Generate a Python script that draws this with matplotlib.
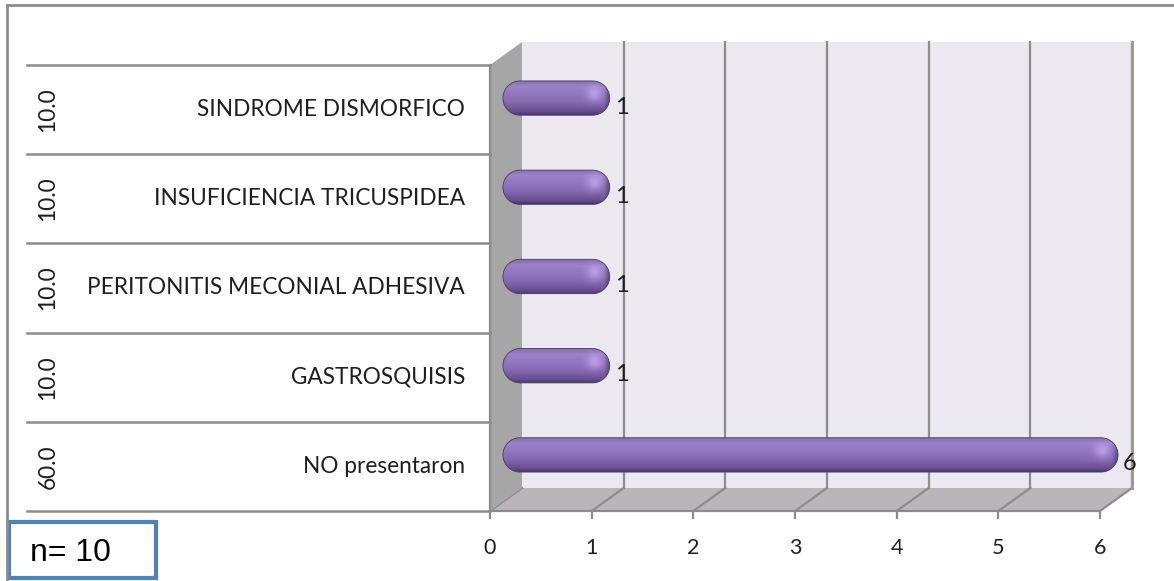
import numpy as np
import matplotlib
matplotlib.use("Agg")
import matplotlib.pyplot as plt
from matplotlib.patches import Polygon, Rectangle
from matplotlib.lines import Line2D
from matplotlib.transforms import offset_copy, blended_transform_factory

# ---- data ----
categories = ["NO presentaron", "GASTROSQUISIS", "PERITONITIS MECONIAL ADHESIVA",
              "INSUFICIENCIA TRICUSPIDEA", "SINDROME DISMORFICO"]
counts = [6, 1, 1, 1, 1]
percents = [60.0, 10.0, 10.0, 10.0, 10.0]
x_ticks = [0, 1, 2, 3, 4, 5, 6]
n_total = 10

W, H, DPI = 1174, 581, 100
fig = plt.figure(figsize=(W / DPI, H / DPI), dpi=DPI)
fig.patch.set_facecolor("white")

LABEL_FONT = ["Lato", "DejaVu Sans"]
GRID = "#8c8c8c"
TXT = "#1e1e1e"

# front plane of the 3D box, in pixels
fx0, fx1 = 490, 1100
fy_top, fy_bot = 65, 511
ax = fig.add_axes([fx0 / W, (H - fy_bot) / H, (fx1 - fx0) / W, (fy_bot - fy_top) / H])
ax.set_xlim(0, 6)
ax.set_ylim(-0.5, len(categories) - 0.5)
ax.axis("off")

ylo, yhi = -0.5, len(categories) - 0.5
xmax = x_ticks[-1]

# depth offsets (dots): back wall and the mid plane where bars sit
bx, by = 32, 23
back = offset_copy(ax.transData, fig=fig, x=bx, y=by, units="dots")
mid = offset_copy(ax.transData, fig=fig, x=bx / 2, y=by / 2, units="dots")

def to_data_offset(dx, dy):
    p0 = ax.transData.inverted().transform((0, 0))
    p1 = ax.transData.inverted().transform((dx, dy))
    return p1[0] - p0[0], p1[1] - p0[1]

fig.canvas.draw()
ddx, ddy = to_data_offset(bx, by)

# back wall with vertical gridlines
ax.add_patch(Polygon([(0, ylo), (xmax, ylo), (xmax, yhi), (0, yhi)], closed=True,
                     facecolor="#ebe8f0", edgecolor="none", transform=back, zorder=1,
                     clip_on=False))
for v in x_ticks[1:]:
    ax.plot([v, v], [ylo, yhi], color=GRID, lw=1.6, transform=back, zorder=2, clip_on=False)

# floor with depth gridlines
ax.add_patch(Polygon([(0, ylo), (xmax, ylo), (xmax + ddx, ylo + ddy), (ddx, ylo + ddy)],
                     closed=True, facecolor="#b9b5ba", edgecolor="none", zorder=1,
                     clip_on=False))
for v in x_ticks:
    ax.plot([v, v + ddx], [ylo, ylo + ddy], color=GRID, lw=1.6, zorder=2, clip_on=False)

# side wall
ax.add_patch(Polygon([(0, ylo), (ddx, ylo + ddy), (ddx, yhi + ddy), (0, yhi)],
                     closed=True, facecolor="#a6a6a6", edgecolor="none", zorder=2,
                     clip_on=False))
ax.plot([0, 0], [ylo, yhi], color=GRID, lw=1.6, zorder=3, clip_on=False)
# right edge of the back wall
ax.plot([xmax + ddx, xmax + ddx], [ylo + ddy, yhi + ddy], color="#9a9a9a", lw=2.2,
        zorder=2, clip_on=False)

# front axis line, ticks and tick labels
tick_len = 7 / 89.2
ax.plot([0, xmax], [ylo, ylo], color=GRID, lw=1.6, zorder=3, clip_on=False)
for v in x_ticks:
    ax.plot([v, v], [ylo, ylo - tick_len], color=GRID, lw=1.6, zorder=3, clip_on=False)
    ax.text(v, ylo - 0.42, str(v), ha="center", va="center", fontsize=15.5,
            family=LABEL_FONT, color=TXT)

# table on the left: row lines, category labels and percentages
tblend = blended_transform_factory(fig.transFigure, ax.transData)
for b in np.arange(ylo, yhi + 0.01, 1.0):
    fig.add_artist(Line2D([27 / W, fx0 / W], [b, b], transform=tblend, color=GRID, lw=1.8))
for i, (cat, pct) in enumerate(zip(categories, percents)):
    fig.text(465 / W, i, cat, transform=tblend, ha="right", va="center",
             fontsize=16.3, family=LABEL_FONT, color=TXT)
    fig.text(48 / W, i, f"{pct:.1f}", transform=tblend, ha="center", va="center",
             rotation=90, fontsize=16.3, family=LABEL_FONT, color=TXT)

# cylinder-style bars with rounded ends
bar_h = 0.385
ry = bar_h / 2
rx = ry * 89.2 / 101.67
stops_t = [0.0, 0.10, 0.35, 0.62, 0.82, 1.0]
stops_c = np.array([[0x4a, 0x38, 0x68], [0x66, 0x4e, 0x8e], [0x84, 0x68, 0xb0],
                    [0x93, 0x77, 0xbf], [0x9c, 0x82, 0xc6], [0x84, 0x6a, 0xae]]) / 255.0
th = np.linspace(0, 1, 60)
prof = np.stack([np.interp(th, stops_t, stops_c[:, k]) for k in range(3)], axis=1)

for i, v in enumerate(counts):
    x0, x1 = -0.03, v + 0.02
    yc = i
    a_r = np.linspace(-np.pi / 2, np.pi / 2, 40)
    a_l = np.linspace(np.pi / 2, 3 * np.pi / 2, 40)
    pts = [(x1 - rx + rx * np.cos(a), yc + ry * np.sin(a)) for a in a_r]
    pts += [(x0 + rx + rx * np.cos(a), yc + ry * np.sin(a)) for a in a_l]
    shape = Polygon(pts, closed=True, facecolor="none", edgecolor="#4a3a66",
                    lw=0.6, transform=mid, zorder=5, clip_on=False)
    ax.add_patch(shape)

    nx = 300
    img = np.repeat(prof[:, None, :], nx, axis=1)
    xs = np.linspace(x0, x1, nx)
    ys = np.linspace(yc - ry, yc + ry, len(th))
    XX, YY = np.meshgrid(xs, ys)
    # soft specular highlight near the right end
    hx, hy = x1 - rx * 0.9, yc + ry * 0.25
    g = np.exp(-(((XX - hx) / (rx * 0.45)) ** 2 + ((YY - hy) / (ry * 0.45)) ** 2))
    hl = np.array([0xc8, 0xaa, 0xf0]) / 255.0
    img = img * (1 - 0.75 * g[..., None]) + hl * 0.75 * g[..., None]
    # darker rim at the far right cap
    shade = np.clip((XX - (x1 - rx * 0.35)) / (rx * 0.35), 0, 1)
    img = img * (1 - 0.35 * shade[..., None])
    im = ax.imshow(img, extent=(x0, x1, yc - ry, yc + ry), origin="lower",
                   aspect="auto", transform=mid, zorder=4, interpolation="bilinear")
    im.set_clip_box(fig.bbox)
    im.set_clip_path(shape)

    ax.text(x1, yc - 0.1, f"{v}", transform=offset_copy(mid, fig=fig, x=5, y=0, units="dots"),
            ha="left", va="center", fontsize=17, family=LABEL_FONT, color=TXT, zorder=6)

ax.set_xlim(0, 6)
ax.set_ylim(ylo, yhi)

# outer frame lines
fig.add_artist(Line2D([7 / W, 1.0], [1 - 5 / H, 1 - 5 / H], transform=fig.transFigure,
                      color=GRID, lw=2))
fig.add_artist(Line2D([7 / W, 7 / W], [1 - 5 / H, 0], transform=fig.transFigure,
                      color=GRID, lw=2))

# sample size box
fig.patches.append(Rectangle((9 / W, 3 / H), 147 / W, 56 / H, transform=fig.transFigure,
                             facecolor="white", edgecolor="#4f81bd", lw=3, figure=fig))
fig.text(30 / W, 28 / H, f"n= {n_total}", ha="left", va="center", fontsize=23,
         family=["Liberation Sans", "DejaVu Sans"], color="black")

fig.savefig("out.png", dpi=DPI)
